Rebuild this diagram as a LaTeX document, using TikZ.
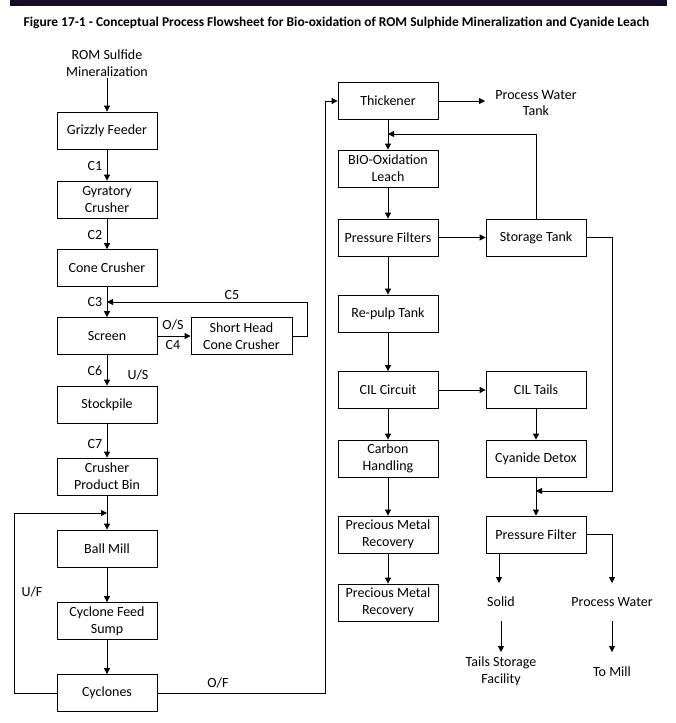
\documentclass[tikz,border=0pt]{standalone}
\usepackage{fontspec}
\setmainfont{Carlito}
\usetikzlibrary{arrows.meta}
\definecolor{barcol}{RGB}{22,12,38}
\tikzset{
  box/.style={draw=black, line width=0.8pt, fill=white, minimum width=100pt, minimum height=37pt, align=center, inner sep=1pt, font=\fontsize{14}{16.7}\selectfont},
  txt/.style={align=center, inner sep=2pt, font=\fontsize{14}{16.7}\selectfont},
  lbl/.style={inner sep=0pt, font=\fontsize{14}{16.7}\selectfont},
  flow/.style={line width=0.8pt, -{Triangle[length=6pt,width=6pt]}},
  plain/.style={line width=0.8pt}
}
\begin{document}
\begin{tikzpicture}[x=1pt,y=-1pt]
\useasboundingbox (0,0) rectangle (675,723);
\fill[barcol] (10,0) rectangle (667,6);
\node[inner sep=0pt, font=\bfseries\fontsize{13.45}{15}\selectfont] (title) at (336.5,23) {Figure 17-1 - Conceptual Process Flowsheet for Bio-oxidation of ROM Sulphide Mineralization and Cyanide Leach};

% left column
\node[txt] (rom) at (107,63) {ROM Sulfide\\Mineralization};
\node[box] (grizzly) at (107,130.5) {Grizzly Feeder};
\node[box] (gyr) at (107,199.5) {Gyratory\\Crusher};
\node[box] (cone) at (107,268) {Cone Crusher};
\node[box] (screen) at (107,336) {Screen};
\node[box, minimum width=101pt] (shcc) at (241.5,336) {Short Head\\Cone Crusher};
\node[box] (stock) at (107,404.5) {Stockpile};
\node[box] (cpb) at (107,476.5) {Crusher\\Product Bin};
\node[box] (ball) at (107,548.5) {Ball Mill};
\node[box] (cfs) at (107,621) {Cyclone Feed\\Sump};
\node[box] (cyc) at (107,693) {Cyclones};

\coordinate (c5a) at (307,336);
\coordinate (c5b) at (307,302);
\coordinate (c5c) at (107,302);
\coordinate (ufa) at (14,693);
\coordinate (ufb) at (14,513);
\coordinate (ufc) at (107,513);
\coordinate (ofa) at (325,693);
\coordinate (ofb) at (325,101);

\draw[flow] (rom.south) -- (grizzly.north);
\draw[flow] (grizzly) -- (gyr);
\draw[flow] (gyr) -- (cone);
\draw[flow] (cone) -- (screen);
\draw[flow] (screen) -- (shcc);
\draw[flow] (shcc.east) -- (c5a) -- (c5b) -- (c5c);
\draw[flow] (screen) -- (stock);
\draw[flow] (stock) -- (cpb);
\draw[flow] (cpb) -- (ball);
\draw[flow] (ball) -- (cfs);
\draw[flow] (cfs) -- (cyc);
\draw[flow] (cyc.west) -- (ufa) -- (ufb) -- (ufc);

\node[lbl] (lc1) at (95,166) {C1};
\node[lbl] (lc2) at (95,235) {C2};
\node[lbl] (lc3) at (95,302) {C3};
\node[lbl] (los) at (173,325) {O/S};
\node[lbl] (lc4) at (173,345) {C4};
\node[lbl] (lc5) at (232,295) {C5};
\node[lbl] (lc6) at (95,371) {C6};
\node[lbl] (lus) at (138,375) {U/S};
\node[lbl] (lc7) at (95,444) {C7};
\node[lbl] (luf) at (32,592) {U/F};
\node[lbl] (lof) at (218,683) {O/F};

% right part
\node[box] (thick) at (388,101) {Thickener};
\node[txt] (pwt) at (536,103) {Process Water\\Tank};
\node[box] (bio) at (388,168.5) {BIO-Oxidation\\Leach};
\node[box] (pf) at (388,237.5) {Pressure Filters};
\node[box] (store) at (536,237.5) {Storage Tank};
\node[box] (repulp) at (388,313.5) {Re-pulp Tank};
\node[box] (cil) at (388,390) {CIL Circuit};
\node[box] (ciltails) at (536,390) {CIL Tails};
\node[box] (carbon) at (388,458.5) {Carbon\\Handling};
\node[box] (detox) at (536,458.5) {Cyanide Detox};
\node[box] (pmr1) at (388,534.5) {Precious Metal\\Recovery};
\node[box] (pfil) at (536,534.5) {Pressure Filter};
\node[box] (pmr2) at (388,602.5) {Precious Metal\\Recovery};
\node[txt] (solid) at (501,602) {Solid};
\node[txt] (pw) at (612,602) {Process Water};
\node[txt] (tsf) at (501,671) {Tails Storage\\Facility};
\node[txt] (mill) at (612,672) {To Mill};

\coordinate (sta) at (536,134);
\coordinate (stb) at (388,134);
\coordinate (sda) at (612,237.5);
\coordinate (sdb) at (612,491);
\coordinate (sdc) at (536,491);
\coordinate (pfe) at (612,534.5);
\coordinate (pfs) at (499,553);
\coordinate (pwe) at (485,101);
\coordinate (solidin) at (499,583);
\coordinate (pwin) at (612,583);
\coordinate (solidout) at (501,621);
\coordinate (tsfin) at (501,652);
\coordinate (pwout) at (612,621);
\coordinate (millin) at (612,652);

\draw[plain] (cyc.east) -- (ofa) -- (ofb);
\draw[flow] (ofb) -- (thick.west);
\draw[flow] (thick.east) -- (pwe);
\draw[flow] (thick) -- (bio);
\draw[flow] (store.north) -- (sta) -- (stb);
\draw[flow] (bio) -- (pf);
\draw[flow] (pf) -- (store);
\draw[flow] (pf) -- (repulp);
\draw[flow] (repulp) -- (cil);
\draw[flow] (cil) -- (ciltails);
\draw[flow] (cil) -- (carbon);
\draw[flow] (carbon) -- (pmr1);
\draw[flow] (pmr1) -- (pmr2);
\draw[flow] (ciltails) -- (detox);
\draw[flow] (detox) -- (pfil);
\draw[flow] (store.east) -- (sda) -- (sdb) -- (sdc);
\draw[flow] (pfs) -- (solidin);
\draw[flow] (pfil.east) -- (pfe) -- (pwin);
\draw[flow] (solidout) -- (tsfin);
\draw[flow] (pwout) -- (millin);
\end{tikzpicture}
\end{document}
